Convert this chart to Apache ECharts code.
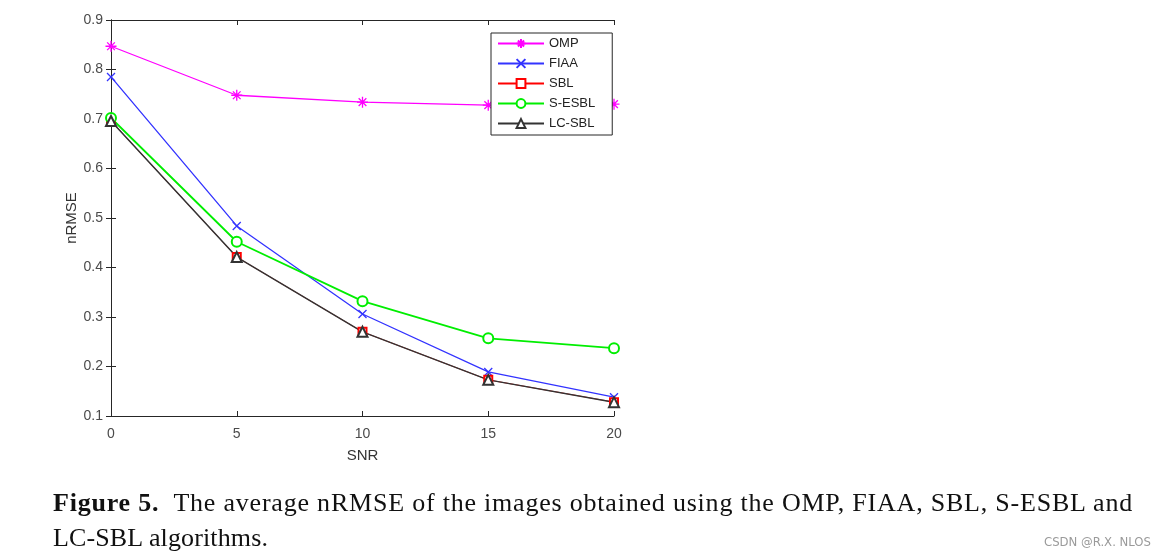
<!DOCTYPE html>
<html>
<head>
<meta charset="utf-8">
<script src="https://cdn.jsdelivr.net/npm/echarts@6/dist/echarts.min.js"></script>
<style>
  html, body { margin: 0; padding: 0; background: #fff; }
  #wrap { position: relative; width: 1165px; height: 558px; overflow: hidden; }
  #chart { position: absolute; left: 0; top: 0; width: 1165px; height: 558px; }
  .cap { position: absolute; left: 53px; font-family: "Liberation Serif", serif; font-size: 26px; color: #111; white-space: nowrap; }
  #wm { position: absolute; right: 14px; top: 534px; font-family: "Liberation Sans Narrow", "DejaVu Sans Condensed", sans-serif; font-size: 13px; color: #9a9a9a; }
</style>
</head>
<body>
<div id="wrap">
  <div id="chart"></div>
  <div class="cap" id="cap1" style="top:488px;"><b>Figure 5.</b>&nbsp; The average nRMSE of the images obtained using the OMP, FIAA, SBL, S-ESBL and</div>
  <div class="cap" id="cap2" style="top:523px;">LC-SBL algorithms.</div>
  <div id="wm">CSDN @R.X. NLOS</div>
</div>
<script>
// ---- data ----
const snr = [0, 5, 10, 15, 20];
const omp   = [0.847, 0.748, 0.734, 0.728, 0.730];
const fiaa  = [0.785, 0.484, 0.306, 0.189, 0.138];
const sbl   = [0.696, 0.421, 0.270, 0.173, 0.128];
const sesbl = [0.702, 0.452, 0.332, 0.257, 0.237];
const lcsbl = [0.696, 0.421, 0.270, 0.173, 0.128];
const seriesNames = ['OMP', 'FIAA', 'SBL', 'S-ESBL', 'LC-SBL'];

// caption width fitting
function fit(id, target) {
  const el = document.getElementById(id);
  const w = el.getBoundingClientRect().width;
  const n = el.textContent.length;
  el.style.letterSpacing = ((target - w) / n) + 'px';
}
fit('cap1', 1080);
fit('cap2', 215);

const pairs = a => snr.map((x, i) => [x, a[i]]);
const star = 'path://M0,-10 L0,10 M-10,0 L10,0 M-7,-7 L7,7 M-7,7 L7,-7';
const xmark = 'path://M-10,-10 L10,10 M-10,10 L10,-10';

function mk(name, data, color, symbol, size, lw) {
  return {
    name, type: 'line', data: pairs(data), symbol, symbolSize: size,
    lineStyle: { color, width: lw || 1.3 },
    itemStyle: { color, borderColor: color, borderWidth: 1.3 },
    emphasis: { disabled: true }, animation: false
  };
}

const chart = echarts.init(document.getElementById('chart'));
const axisCol = '#262626';
const labelCol = '#4a4a4a';
chart.setOption({
  animation: false,
  grid: { left: 111, right: 551, top: 20, bottom: 142 },
  xAxis: [{
    type: 'value', min: 0, max: 20, interval: 5,
    name: 'SNR', nameLocation: 'middle', nameGap: 32,
    nameTextStyle: { fontFamily: 'Liberation Sans', fontSize: 15, color: '#333' },
    axisLine: { lineStyle: { color: axisCol, width: 1 } },
    axisTick: { inside: true, length: 5, lineStyle: { color: axisCol } },
    axisLabel: { margin: 11, fontFamily: 'Liberation Sans', fontSize: 14, color: labelCol },
    splitLine: { show: false }
  }, {
    type: 'value', min: 0, max: 20, interval: 5, position: 'top',
    axisLine: { show: true, lineStyle: { color: axisCol, width: 1 } },
    axisTick: { inside: true, length: 5, lineStyle: { color: axisCol } },
    axisLabel: { show: false }, splitLine: { show: false }
  }],
  yAxis: [{
    type: 'value', min: 0.1, max: 0.9, interval: 0.1,
    name: 'nRMSE', nameLocation: 'middle', nameGap: 28,
    nameTextStyle: { fontFamily: 'Liberation Sans', fontSize: 15, color: '#333' },
    axisLine: { show: true, lineStyle: { color: axisCol, width: 1 } },
    axisTick: { show: true, inside: true, length: 5, lineStyle: { color: axisCol } },
    axisLabel: { margin: 8, fontFamily: 'Liberation Sans', fontSize: 14, color: labelCol, formatter: v => v.toFixed(1) },
    splitLine: { show: false }
  }, {
    type: 'value', min: 0.1, max: 0.9, interval: 0.1, position: 'right',
    axisLine: { show: true, lineStyle: { color: axisCol, width: 1 } },
    axisTick: { show: true, inside: true, length: 5, lineStyle: { color: axisCol } },
    axisLabel: { show: false }, splitLine: { show: false }
  }],
  legend: {
    orient: 'vertical', left: 491, top: 33,
    data: seriesNames,
    backgroundColor: '#fff', borderColor: axisCol, borderWidth: 1,
    padding: [4, 17, 5, 6], itemGap: 7, itemWidth: 46, itemHeight: 11,
    textStyle: { fontFamily: 'Liberation Sans', fontSize: 13, color: '#222' },
    selectedMode: false
  },
  series: [
    mk('OMP', omp, '#ff00ff', star, 11),
    mk('FIAA', fiaa, '#3333ff', xmark, 8),
    mk('SBL', sbl, '#ff0000', 'emptyRect', 8, 0.8),
    mk('S-ESBL', sesbl, '#00ee00', 'emptyCircle', 10, 1.8),
    mk('LC-SBL', lcsbl, '#333333', 'emptyTriangle', 10, 1.5)
  ]
});
</script>
</body>
</html>
